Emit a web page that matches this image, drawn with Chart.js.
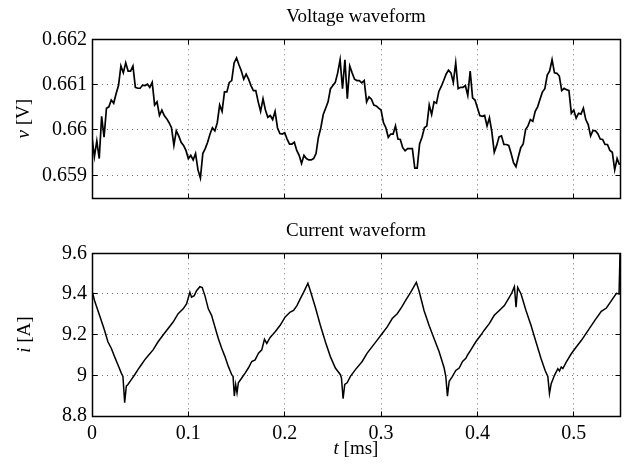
<!DOCTYPE html>
<html>
<head>
<meta charset="utf-8">
<script src="https://cdn.jsdelivr.net/npm/chart.js@4.4.0/dist/chart.umd.min.js"></script>
<style>
  body { margin: 0; background: #fff; }
  #wrap { position: relative; width: 628px; height: 468px; }
  canvas { position: absolute; left: 0; }
  #vChart { top: 0; }
  #iChart { top: 215px; }
</style>
</head>
<body>
<div id="wrap">
  <canvas id="vChart" width="628" height="215"></canvas>
  <canvas id="iChart" width="628" height="253"></canvas>
</div>
<script>
// Time axis
const T_MAX = 0.548;
const T_TICKS = [0, 0.1, 0.2, 0.3, 0.4, 0.5];

// Voltage, sampled every 0.0025 ms starting at t = 0 (V)
const V_SAMPLE_MS = 0.0025;
const VOLTAGE = [
  0.65984, 0.65941, 0.65976, 0.65937, 0.66030, 0.65984, 0.66048, 0.66051, 0.66066, 0.66059,
  0.66080, 0.66098, 0.66141, 0.66126, 0.66148, 0.66130, 0.66130, 0.66141, 0.66094, 0.66092,
  0.66092, 0.66099, 0.66098, 0.66101, 0.66094, 0.66105, 0.66055, 0.66062, 0.66032, 0.66044,
  0.66032, 0.66025, 0.66016, 0.66005, 0.65966, 0.65998, 0.65987, 0.65973, 0.65966, 0.65955,
  0.65937, 0.65944, 0.65934, 0.65948, 0.65912, 0.65894, 0.65948, 0.65959, 0.65973, 0.65991,
  0.66005, 0.65998, 0.66016, 0.66055, 0.66041, 0.66084, 0.66084, 0.66105, 0.66109, 0.66148,
  0.66159, 0.66144, 0.66130, 0.66112, 0.66123, 0.66112, 0.66098, 0.66087, 0.66087, 0.66062,
  0.66041, 0.66069, 0.66044, 0.66028, 0.66032, 0.66023, 0.66041, 0.66005, 0.65992, 0.65991,
  0.65994, 0.65980, 0.65969, 0.65969, 0.65973, 0.65955, 0.65944, 0.65926, 0.65944, 0.65937,
  0.65934, 0.65934, 0.65937, 0.65948, 0.65984, 0.66005, 0.66034, 0.66048, 0.66062, 0.66091,
  0.66098, 0.66105, 0.66126, 0.66155, 0.66091, 0.66155, 0.66069, 0.66141, 0.66126, 0.66112,
  0.66109, 0.66109, 0.66104, 0.66109, 0.66062, 0.66073, 0.66068, 0.66055, 0.66053, 0.66048,
  0.66044, 0.66016, 0.66005, 0.65984, 0.65991, 0.65991, 0.66009, 0.65980, 0.65979, 0.65961,
  0.65954, 0.65959, 0.65959, 0.65959, 0.65916, 0.65916, 0.65969, 0.65984, 0.66005, 0.66009,
  0.66055, 0.66034, 0.66062, 0.66059, 0.66085, 0.66096, 0.66109, 0.66123, 0.66132, 0.66126,
  0.66105, 0.66148, 0.66091, 0.66094, 0.66094, 0.66098, 0.66076, 0.66130, 0.66071, 0.66066,
  0.66049, 0.66032, 0.66030, 0.66032, 0.66009, 0.66027, 0.65996, 0.65951, 0.65966, 0.65985,
  0.65987, 0.65968, 0.65968, 0.65966, 0.65948, 0.65928, 0.65919, 0.65941, 0.65961, 0.65969,
  0.66001, 0.66009, 0.66023, 0.66019, 0.66041, 0.66051, 0.66068, 0.66084, 0.66091, 0.66121,
  0.66130, 0.66155, 0.66126, 0.66125, 0.66119, 0.66087, 0.66092, 0.66089, 0.66087, 0.66037,
  0.66044, 0.66026, 0.66037, 0.66035, 0.66048, 0.66023, 0.66012, 0.65987, 0.65999, 0.65998,
  0.65992, 0.65980, 0.65979, 0.65968, 0.65968, 0.65955, 0.65951, 0.65912, 0.65937, 0.65923
];

// Current waveform vertices (ms, A)
const CURRENT_T = [
  0, 0.0026, 0.0078, 0.0130, 0.0165, 0.0200, 0.0234, 0.0269, 0.0304, 0.0321,
  0.0339, 0.0356, 0.0373, 0.0408, 0.0443, 0.0477, 0.0512, 0.0547, 0.0582, 0.0634,
  0.0686, 0.0738, 0.0790, 0.0842, 0.0894, 0.0946, 0.0981, 0.1016, 0.1033, 0.1061,
  0.1085, 0.1120, 0.1144, 0.1172, 0.1207, 0.1241, 0.1276, 0.1311, 0.1346, 0.1380,
  0.1415, 0.1450, 0.1464, 0.1477, 0.1491, 0.1505, 0.1519, 0.1554, 0.1589, 0.1623,
  0.1658, 0.1693, 0.1728, 0.1762, 0.1790, 0.1814, 0.1849, 0.1901, 0.1953, 0.2005,
  0.2057, 0.2092, 0.2127, 0.2161, 0.2196, 0.2241, 0.2266, 0.2318, 0.2370, 0.2422,
  0.2474, 0.2526, 0.2578, 0.2589, 0.2606, 0.2623, 0.2648, 0.2682, 0.2734, 0.2804,
  0.2856, 0.2908, 0.2960, 0.3012, 0.3064, 0.3116, 0.3168, 0.3214, 0.3255, 0.3307,
  0.3366, 0.3394, 0.3446, 0.3498, 0.3550, 0.3602, 0.3655, 0.3672, 0.3689, 0.3707,
  0.3741, 0.3776, 0.3811, 0.3846, 0.3880, 0.3898, 0.3932, 0.3984, 0.4036, 0.4071,
  0.4123, 0.4175, 0.4227, 0.4280, 0.4332, 0.4359, 0.4384, 0.4401, 0.4418, 0.4453,
  0.4505, 0.4557, 0.4609, 0.4661, 0.4703, 0.4731, 0.4748, 0.4766, 0.4800, 0.4835,
  0.4852, 0.4870, 0.4887, 0.4922, 0.4974, 0.5026, 0.5078, 0.5148, 0.5217, 0.5286,
  0.5339, 0.5391, 0.5443, 0.5470, 0.5480
];
const CURRENT = [
  9.416, 9.368, 9.295, 9.222, 9.165, 9.133, 9.092, 9.052, 9.011, 8.995,
  8.866, 8.947, 8.955, 8.979, 9.003, 9.028, 9.052, 9.076, 9.096, 9.125,
  9.165, 9.198, 9.230, 9.262, 9.303, 9.327, 9.351, 9.408, 9.384, 9.392,
  9.416, 9.436, 9.432, 9.392, 9.327, 9.295, 9.238, 9.181, 9.133, 9.092,
  9.044, 9.003, 8.995, 8.898, 8.955, 8.914, 8.963, 8.987, 9.011, 9.036,
  9.068, 9.076, 9.109, 9.125, 9.177, 9.157, 9.186, 9.214, 9.246, 9.287,
  9.311, 9.319, 9.343, 9.376, 9.408, 9.453, 9.416, 9.335, 9.246, 9.165,
  9.092, 9.036, 9.003, 8.987, 8.885, 8.955, 8.963, 8.995, 9.028, 9.068,
  9.109, 9.141, 9.173, 9.206, 9.238, 9.279, 9.303, 9.335, 9.368, 9.408,
  9.457, 9.416, 9.319, 9.246, 9.181, 9.117, 9.036, 8.995, 8.898, 8.971,
  8.995, 9.024, 9.036, 9.068, 9.084, 9.100, 9.125, 9.165, 9.198, 9.222,
  9.254, 9.295, 9.319, 9.343, 9.384, 9.408, 9.436, 9.335, 9.432, 9.400,
  9.318, 9.245, 9.163, 9.082, 9.024, 8.995, 8.910, 8.959, 9.000, 9.033,
  9.021, 9.041, 9.033, 9.065, 9.106, 9.139, 9.171, 9.220, 9.269, 9.315,
  9.331, 9.367, 9.403, 9.400, 9.596
];

// Y axes
const V_MIN = 0.6585, V_MAX = 0.662;
const V_TICKS = [0.659, 0.66, 0.661, 0.662];
const I_MIN = 8.8, I_MAX = 9.6;
const I_TICKS = [8.8, 9, 9.2, 9.4, 9.6];

const FONT = '"Liberation Serif", "Times New Roman", serif';
const GRID = "rgba(0,0,0,0.55)";

// Axis labels with an italic variable name, MATLAB style
const axisLabels = {
  id: "axisLabels",
  afterDraw(chart, args, o) {
    const { ctx, chartArea: a } = chart;
    const put = (italic, plain, cx, cy, rot) => {
      ctx.save();
      ctx.translate(cx, cy);
      ctx.rotate(rot);
      ctx.fillStyle = "#000";
      ctx.textBaseline = "middle";
      ctx.textAlign = "left";
      ctx.font = `italic ${o.size}px ${FONT}`;
      const w1 = ctx.measureText(italic).width;
      ctx.font = `${o.size}px ${FONT}`;
      const w2 = ctx.measureText(plain).width;
      const x0 = -(w1 + w2) / 2;
      ctx.font = `italic ${o.size}px ${FONT}`;
      ctx.fillText(italic, x0, 0);
      ctx.font = `${o.size}px ${FONT}`;
      ctx.fillText(plain, x0 + w1, 0);
      ctx.restore();
    };
    if (o.yVar) put(o.yVar, o.yUnit, o.yPos, (a.top + a.bottom) / 2, -Math.PI / 2);
    if (o.xVar) put(o.xVar, o.xUnit, (a.left + a.right) / 2, a.bottom + o.xGap, 0);
  },
};

// Box around the axes with inward tick marks
const frame = {
  id: "frame",
  afterDatasetsDraw(chart) {
    const { ctx, chartArea: a, scales } = chart;
    const al = (p) => Math.round(p - 0.5) + 0.5;
    const L = al(a.left), R = al(a.right), T = al(a.top), B = al(a.bottom);
    ctx.save();
    ctx.strokeStyle = "#000";
    ctx.lineWidth = 1;
    ctx.beginPath();
    scales.x.ticks.forEach((t) => {
      const p = al(scales.x.getPixelForValue(t.value));
      ctx.moveTo(p, B); ctx.lineTo(p, B - 5);
      ctx.moveTo(p, T); ctx.lineTo(p, T + 5);
    });
    scales.y.ticks.forEach((t) => {
      const p = al(scales.y.getPixelForValue(t.value));
      ctx.moveTo(L, p); ctx.lineTo(L + 5, p);
      ctx.moveTo(R, p); ctx.lineTo(R - 5, p);
    });
    ctx.stroke();
    ctx.lineWidth = 1.5;
    ctx.strokeRect(L, T, R - L, B - T);
    ctx.restore();
  },
};

function tickFont() {
  return { family: FONT, size: 20 };
}

function makeChart(id, cfg) {
  return new Chart(document.getElementById(id), {
    type: "line",
    data: {
      datasets: [
        {
          data: cfg.points,
          borderColor: "#000",
          borderWidth: cfg.lineWidth,
          pointRadius: 0,
          tension: 0,
          fill: false,
        },
      ],
    },
    options: {
      responsive: false,
      animation: false,
      layout: { padding: { left: 0, right: 8, top: 0, bottom: 0 } },
      plugins: {
        legend: { display: false },
        tooltip: { enabled: false },
        title: {
          display: true,
          text: cfg.title,
          fullSize: false,
          color: "#000",
          font: { family: FONT, size: 19, weight: "normal", lineHeight: 1.2 },
          padding: { top: cfg.titleTop, bottom: cfg.titleBottom },
        },
        axisLabels: {
          size: 19,
          yVar: cfg.yVar, yUnit: cfg.yUnit, yPos: cfg.yPos,
          xVar: cfg.xVar, xUnit: cfg.xUnit, xGap: 33,
        },
      },
      scales: {
        x: {
          type: "linear",
          min: 0,
          max: T_MAX,
          afterBuildTicks: (s) => { s.ticks = T_TICKS.map((v) => ({ value: v })); },
          afterFit: (s) => { s.height = cfg.xHeight; },
          grid: { color: GRID, drawTicks: false },
          border: { display: false, dash: [1, 4] },
          ticks: {
            display: cfg.xTicks,
            padding: 6,
            color: "#000",
            font: tickFont(),
            maxRotation: 0,
            callback: (v) => String(v),
          },
        },
        y: {
          type: "linear",
          min: cfg.yMin,
          max: cfg.yMax,
          afterBuildTicks: (s) => { s.ticks = cfg.yTicks.map((v) => ({ value: v })); },
          afterFit: (s) => { s.width = 92; },
          grid: { color: GRID, drawTicks: false },
          border: { display: false, dash: [1, 4] },
          ticks: {
            padding: 5,
            color: "#000",
            font: tickFont(),
            callback: (v) => String(+v.toFixed(4)),
          },
        },
      },
    },
    plugins: [axisLabels, frame],
  });
}

makeChart("vChart", {
  title: "Voltage waveform",
  points: VOLTAGE.map((v, k) => ({ x: k * V_SAMPLE_MS, y: v })),
  lineWidth: 1.7,
  titleTop: 5.6,
  titleBottom: 10.9,
  xHeight: 13,
  xTicks: false,
  yMin: V_MIN, yMax: V_MAX, yTicks: V_TICKS,
  yVar: "v", yUnit: " [V]", yPos: 24,
});

makeChart("iChart", {
  title: "Current waveform",
  points: CURRENT.map((v, k) => ({ x: CURRENT_T[k], y: v })),
  lineWidth: 1.5,
  titleTop: 4.3,
  titleBottom: 11.2,
  xHeight: 52,
  xTicks: true,
  yMin: I_MIN, yMax: I_MAX, yTicks: I_TICKS,
  yVar: "i", yUnit: " [A]", yPos: 25,
  xVar: "t", xUnit: " [ms]",
});
</script>
</body>
</html>
